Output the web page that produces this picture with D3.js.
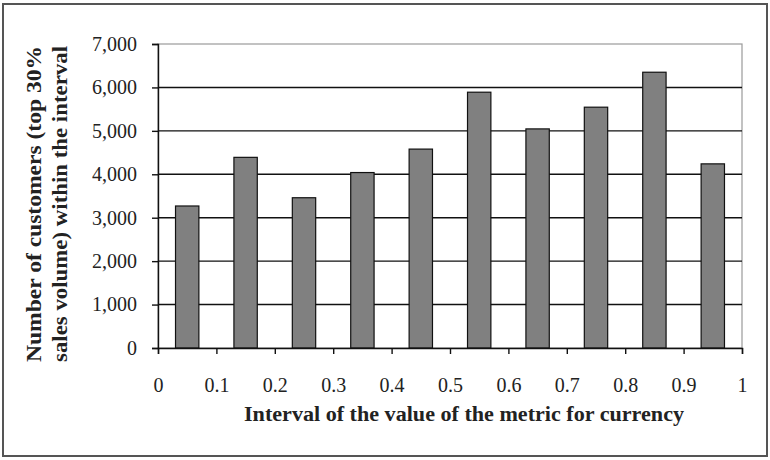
<!DOCTYPE html>
<html>
<head>
<meta charset="utf-8">
<script src="https://cdn.jsdelivr.net/npm/d3@7"></script>
<style>
  body { margin: 0; background: #fff; }
  svg, svg text { font-family: "Liberation Serif", "Times New Roman", Times, serif; }
</style>
</head>
<body>
<div id="chart"></div>
<script>
// interval start values (each bar covers [start, start + 0.1])
const intervalStarts = [0, 0.1, 0.2, 0.3, 0.4, 0.5, 0.6, 0.7, 0.8, 0.9];
const customerCounts = [3270, 4390, 3460, 4040, 4580, 5890, 5045, 5545, 6350, 4240];
const xTickValues = [0, 0.1, 0.2, 0.3, 0.4, 0.5, 0.6, 0.7, 0.8, 0.9, 1];
const yTickValues = [0, 1000, 2000, 3000, 4000, 5000, 6000, 7000];
const yTitleLines = ["Number of customers (top 30%", "sales volume) within the interval"];
const xTitle = "Interval of the value of the metric for currency";

const W = 770, H = 460;
const margin = { top: 44, right: 28, bottom: 112, left: 158 };
const width = W - margin.left - margin.right;
const height = H - margin.top - margin.bottom;

const svg = d3.select("#chart").append("svg")
    .attr("width", W)
    .attr("height", H);

// outer frame
svg.append("rect")
    .attr("x", 3).attr("y", 4)
    .attr("width", 764).attr("height", 452)
    .attr("fill", "none")
    .attr("stroke", "#555")
    .attr("stroke-width", 2);

const g = svg.append("g")
    .attr("transform", `translate(${margin.left},${margin.top})`);

const x = d3.scaleLinear().domain([0, 1]).range([0, width]);
const y = d3.scaleLinear().domain([0, 7000]).range([height, 0]);

// plot area border (light grey top / right)
g.append("rect")
    .attr("x", 0).attr("y", 0)
    .attr("width", width).attr("height", height)
    .attr("fill", "none")
    .attr("stroke", "#9a9a9a")
    .attr("stroke-width", 1.2);

// gridlines
g.selectAll(".grid")
    .data(yTickValues.filter(v => v > 0 && v < 7000))
    .enter().append("line")
    .attr("x1", 0).attr("x2", width)
    .attr("y1", d => y(d)).attr("y2", d => y(d))
    .attr("stroke", "#111")
    .attr("stroke-width", 1.4);

// bars
const barW = x(0.04) - x(0);
g.selectAll(".bar")
    .data(intervalStarts.map((s, i) => ({ s, v: customerCounts[i] })))
    .enter().append("rect")
    .attr("x", d => x(d.s + 0.05) - barW / 2)
    .attr("y", d => y(d.v))
    .attr("width", barW)
    .attr("height", d => y(0) - y(d.v))
    .attr("fill", "#808080")
    .attr("stroke", "#111")
    .attr("stroke-width", 1.2);

// y axis
const yAxis = g.append("g")
    .call(d3.axisLeft(y).tickValues(yTickValues).tickFormat(d3.format(",")).tickSize(6).tickPadding(15));
yAxis.attr("font-family", null);
yAxis.select(".domain").attr("stroke", "#111").attr("stroke-width", 1.4);
yAxis.selectAll(".tick line").attr("stroke", "#111").attr("stroke-width", 1.4);
yAxis.selectAll("text")
    .attr("font-size", 20)
    .attr("fill", "#222");

// x axis
const xAxis = g.append("g")
    .attr("transform", `translate(0,${height})`)
    .call(d3.axisBottom(x).tickValues(xTickValues).tickFormat(d3.format("")).tickSize(6).tickPadding(24));
xAxis.attr("font-family", null);
xAxis.select(".domain").attr("stroke", "#111").attr("stroke-width", 1.4);
xAxis.selectAll(".tick line").attr("stroke", "#111").attr("stroke-width", 1.4);
xAxis.selectAll("text")
    .attr("font-size", 20)
    .attr("fill", "#222");

// x title
svg.append("text")
    .attr("x", 464)
    .attr("y", 421)
    .attr("text-anchor", "middle")
    .attr("font-size", 20)
    .attr("font-weight", "bold")
    .attr("fill", "#222")
    .attr("textLength", 440)
    .attr("lengthAdjust", "spacingAndGlyphs")
    .text(xTitle);

// y title (two rotated lines)
const yTitle = svg.append("g")
    .attr("transform", "translate(0,204) rotate(-90)");
yTitle.selectAll("text")
    .data(yTitleLines)
    .enter().append("text")
    .attr("x", 0)
    .attr("y", (d, i) => i === 0 ? 41 : 67)
    .attr("text-anchor", "middle")
    .attr("font-size", 21)
    .attr("font-weight", "bold")
    .attr("fill", "#222")
    .attr("textLength", 316)
    .attr("lengthAdjust", "spacingAndGlyphs")
    .text(d => d);
</script>
</body>
</html>
